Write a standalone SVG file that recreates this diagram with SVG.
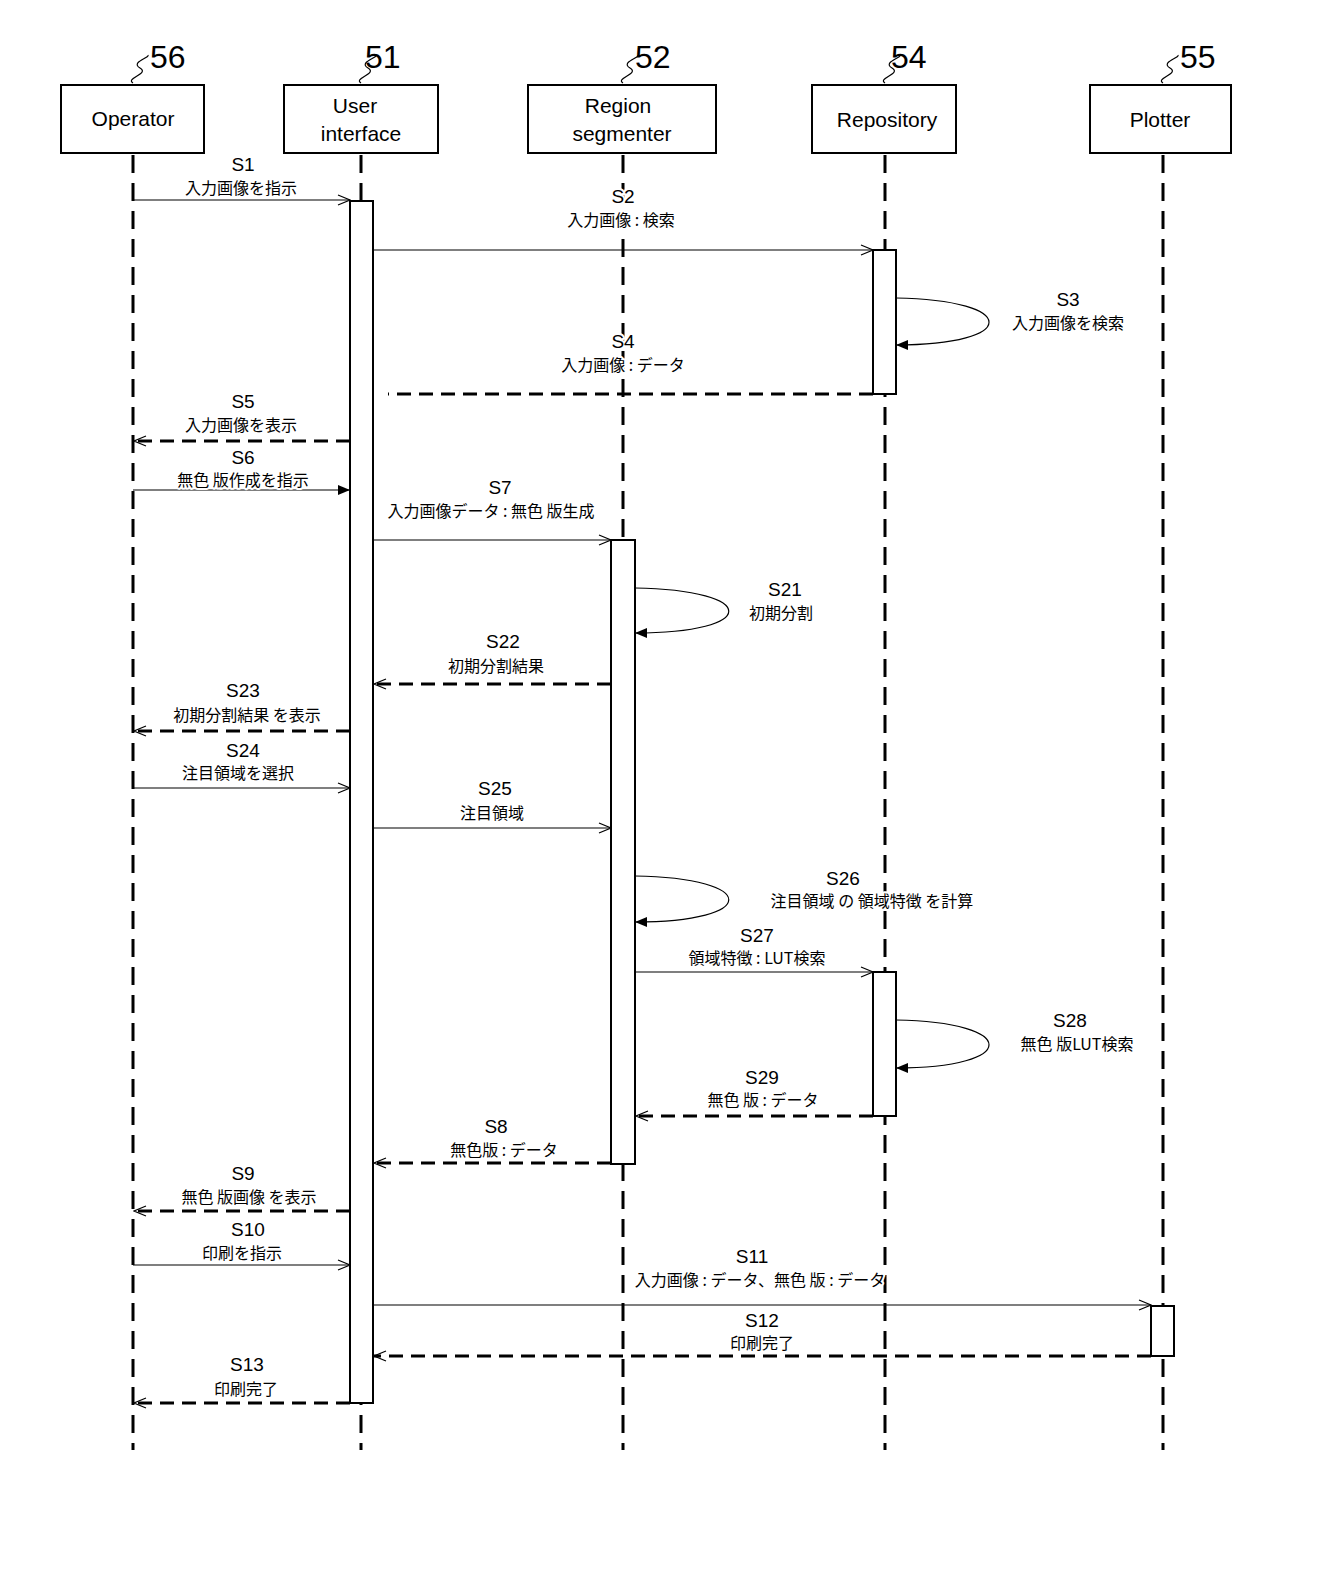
<svg xmlns="http://www.w3.org/2000/svg" width="1323" height="1591" viewBox="0 0 1323 1591">
<style>
.box{fill:#fff;stroke:#000;stroke-width:2}
.life{stroke:#000;stroke-width:3;stroke-dasharray:18 10;fill:none}
.act{fill:#fff;stroke:#000;stroke-width:2}
.msg{stroke:#000;stroke-width:1.2;fill:none}
.ret{stroke:#000;stroke-width:3;stroke-dasharray:14 8;fill:none}
.loop{stroke:#000;stroke-width:1.2;fill:none}
.t{font-family:"Noto Sans CJK JP","Liberation Sans",sans-serif;font-size:16px;text-anchor:middle;fill:#000;stroke:#fff;stroke-width:4px;paint-order:stroke;stroke-linejoin:round}
.n{font-family:"Liberation Sans Narrow","Liberation Sans",sans-serif;font-size:19px;text-anchor:middle;fill:#000;stroke:#fff;stroke-width:4px;paint-order:stroke}
.h{font-family:"Liberation Sans",sans-serif;font-size:21px;text-anchor:middle;fill:#000}
.ref{font-family:"Liberation Sans Narrow","Liberation Sans",sans-serif;font-size:32px;fill:#000}
.sq{stroke:#000;stroke-width:1.2;fill:none}
</style>
<defs>
<marker id="open" markerWidth="14" markerHeight="12" refX="13" refY="6" orient="auto" markerUnits="userSpaceOnUse"><path d="M1,1 L13,6 L1,11" fill="none" stroke="#000" stroke-width="1.2"/></marker>
<marker id="fill" markerWidth="14" markerHeight="12" refX="13" refY="6" orient="auto" markerUnits="userSpaceOnUse"><path d="M1,1 L13,6 L1,11 Z" fill="#000"/></marker>
</defs>
<rect width="1323" height="1591" fill="#fff"/>
<g id="lifelines">
<line class="life" x1="133" y1="155" x2="133" y2="1450"/>
<line class="life" x1="361" y1="155" x2="361" y2="1450"/>
<line class="life" x1="623" y1="155" x2="623" y2="1450"/>
<line class="life" x1="885" y1="155" x2="885" y2="1450"/>
<line class="life" x1="1163" y1="155" x2="1163" y2="1450"/>
</g>
<g id="n56"><rect class="box" x="61" y="85" width="143" height="68"/><text class="h" x="133" y="126">Operator</text><path class="sq" d="M133,83 C125,78 150,74 140,68 C130,62 150,58 148,55"/><text class="ref" x="150" y="68">56</text></g>
<g id="n51"><rect class="box" x="284" y="85" width="154" height="68"/><text class="h" x="355" y="113">User</text><text class="h" x="361" y="141">interface</text><path class="sq" d="M361,83 C353,78 378,74 368,68 C358,62 378,58 376,55"/><text class="ref" x="365" y="68">51</text></g>
<g id="n52"><rect class="box" x="528" y="85" width="188" height="68"/><text class="h" x="618" y="113">Region</text><text class="h" x="622" y="141">segmenter</text><path class="sq" d="M623,83 C615,78 640,74 630,68 C620,62 640,58 638,55"/><text class="ref" x="635" y="68">52</text></g>
<g id="n54"><rect class="box" x="812" y="85" width="144" height="68"/><text class="h" x="887" y="127">Repository</text><path class="sq" d="M885,83 C877,78 902,74 892,68 C882,62 902,58 900,55"/><text class="ref" x="891" y="68">54</text></g>
<g id="n55"><rect class="box" x="1090" y="85" width="141" height="68"/><text class="h" x="1160" y="127">Plotter</text><path class="sq" d="M1163,83 C1155,78 1180,74 1170,68 C1160,62 1180,58 1178,55"/><text class="ref" x="1180" y="68">55</text></g>
<g id="activations">
<rect class="act" x="350" y="201" width="23" height="1202"/>
<rect class="act" x="873" y="250" width="23" height="144"/>
<rect class="act" x="873" y="972" width="23" height="144"/>
<rect class="act" x="611" y="540" width="24" height="624"/>
<rect class="act" x="1151" y="1306" width="23" height="50"/>
</g>
<g id="connectors">
<line class="msg" x1="133" y1="200" x2="350" y2="200" marker-end="url(#open)"/>
<line class="msg" x1="373" y1="250" x2="873" y2="250" marker-end="url(#open)"/>
<path class="loop" d="M896,298 C1020,300 1020,345 896,345" marker-end="url(#fill)"/>
<line class="ret" x1="873" y1="394" x2="388" y2="394"/>
<line class="ret" x1="350" y1="441" x2="134" y2="441" marker-end="url(#open)"/>
<line class="msg" x1="133" y1="490" x2="350" y2="490" marker-end="url(#fill)"/>
<line class="msg" x1="373" y1="540" x2="611" y2="540" marker-end="url(#open)"/>
<path class="loop" d="M635,588 C760,590 760,633 635,633" marker-end="url(#fill)"/>
<line class="ret" x1="611" y1="684" x2="374" y2="684" marker-end="url(#open)"/>
<line class="ret" x1="350" y1="731" x2="134" y2="731" marker-end="url(#open)"/>
<line class="msg" x1="133" y1="788" x2="350" y2="788" marker-end="url(#open)"/>
<line class="msg" x1="373" y1="828" x2="611" y2="828" marker-end="url(#open)"/>
<path class="loop" d="M635,876 C760,878 760,922 635,922" marker-end="url(#fill)"/>
<line class="msg" x1="635" y1="972" x2="873" y2="972" marker-end="url(#open)"/>
<path class="loop" d="M896,1020 C1020,1022 1020,1068 896,1068" marker-end="url(#fill)"/>
<line class="ret" x1="873" y1="1116" x2="636" y2="1116" marker-end="url(#open)"/>
<line class="ret" x1="611" y1="1163" x2="374" y2="1163" marker-end="url(#open)"/>
<line class="ret" x1="350" y1="1211" x2="134" y2="1211" marker-end="url(#open)"/>
<line class="msg" x1="133" y1="1265" x2="350" y2="1265" marker-end="url(#open)"/>
<line class="msg" x1="373" y1="1305" x2="1151" y2="1305" marker-end="url(#open)"/>
<line class="ret" x1="1151" y1="1356" x2="374" y2="1356" marker-end="url(#open)"/>
<line class="ret" x1="350" y1="1403" x2="134" y2="1403" marker-end="url(#open)"/>
</g>
<g id="labels">
<text class="n" x="243" y="171">S1</text><text class="t" x="241" y="194">入力画像を指示</text>
<text class="n" x="623" y="203">S2</text><text class="t" x="621" y="226">入力画像 : 検索</text>
<text class="n" x="1068" y="306">S3</text><text class="t" x="1068" y="329">入力画像を検索</text>
<text class="n" x="623" y="348">S4</text><text class="t" x="623" y="371">入力画像 : データ</text>
<text class="n" x="243" y="408">S5</text><text class="t" x="241" y="431">入力画像を表示</text>
<text class="n" x="243" y="464">S6</text><text class="t" x="243" y="486">無色 版作成を指示</text>
<text class="n" x="500" y="494">S7</text><text class="t" x="491" y="517">入力画像データ : 無色 版生成</text>
<text class="n" x="785" y="596">S21</text><text class="t" x="781" y="619">初期分割</text>
<text class="n" x="503" y="648">S22</text><text class="t" x="496" y="672">初期分割結果</text>
<text class="n" x="243" y="697">S23</text><text class="t" x="247" y="721">初期分割結果 を表示</text>
<text class="n" x="243" y="757">S24</text><text class="t" x="238" y="779">注目領域を選択</text>
<text class="n" x="495" y="795">S25</text><text class="t" x="492" y="819">注目領域</text>
<text class="n" x="843" y="885">S26</text><text class="t" x="872" y="907">注目領域 の 領域特徴 を計算</text>
<text class="n" x="757" y="942">S27</text><text class="t" x="757" y="964">領域特徴 : LUT検索</text>
<text class="n" x="1070" y="1027">S28</text><text class="t" x="1077" y="1050">無色 版LUT検索</text>
<text class="n" x="762" y="1084">S29</text><text class="t" x="763" y="1106">無色 版 : データ</text>
<text class="n" x="496" y="1133">S8</text><text class="t" x="504" y="1156">無色版 : データ</text>
<text class="n" x="243" y="1180">S9</text><text class="t" x="249" y="1203">無色 版画像 を表示</text>
<text class="n" x="248" y="1236">S10</text><text class="t" x="242" y="1259">印刷を指示</text>
<text class="n" x="752" y="1263">S11</text><text class="t" x="760" y="1286">入力画像 : データ、無色 版 : データ</text>
<text class="n" x="762" y="1327">S12</text><text class="t" x="762" y="1349">印刷完了</text>
<text class="n" x="247" y="1371">S13</text><text class="t" x="246" y="1395">印刷完了</text>
</g>
</svg>
